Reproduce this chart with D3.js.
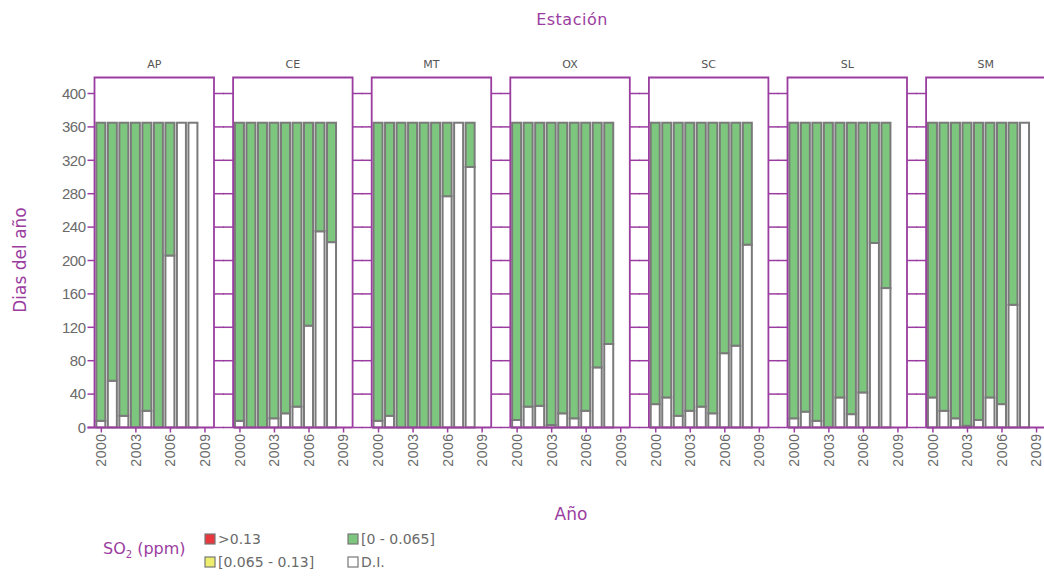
<!DOCTYPE html>
<html>
<head>
<meta charset="utf-8">
<script src="https://cdn.jsdelivr.net/npm/d3@7"></script>
<style>
  html, body { margin: 0; padding: 0; background: #fff; }
  svg { display: block; font-family: "DejaVu Sans", Verdana, sans-serif; }
</style>
</head>
<body>
<svg id="chart" width="1044" height="576"></svg>
<script>
// Días del año por estación y año, según rango de concentración de SO2
const stations = ["AP", "CE", "MT", "OX", "SC", "SL", "SM"];
const years = [2000, 2001, 2002, 2003, 2004, 2005, 2006, 2007, 2008];
const yearTicks = [2000, 2003, 2006, 2009];
const yTicks = [0, 40, 80, 120, 160, 200, 240, 280, 320, 360, 400];
const daysInYear = 365;

// Días sin información (D.I.) por estación, 2000–2008
const diAP = [8, 56, 14, 0, 20, 0, 206, 365, 365];
const diCE = [8, 0, 0, 11, 17, 25, 122, 235, 222];
const diMT = [8, 14, 0, 0, 0, 0, 277, 365, 312];
const diOX = [9, 25, 26, 3, 17, 11, 20, 72, 100];
const diSC = [28, 36, 14, 20, 25, 17, 89, 98, 219];
const diSL = [11, 19, 8, 0, 36, 16, 42, 221, 167];
const diSM = [36, 20, 11, 2, 9, 36, 28, 147, 365];
const diByStation = [diAP, diCE, diMT, diOX, diSC, diSL, diSM];

// Días en los rangos altos (ninguno en el periodo)
const over013 = [0, 0, 0, 0, 0, 0, 0, 0, 0];
const range065to013 = [0, 0, 0, 0, 0, 0, 0, 0, 0];

const legendLabels = [">0.13", "[0.065 - 0.13]", "[0 - 0.065]", "D.I."];
const legendColors = ["#e8383d", "#eeee6e", "#7dc67e", "#ffffff"];

const purple = "#9b3da0";
const grey = "#7a7a7a";
const textGrey = "#6a6a6a";

const svg = d3.select("#chart");

const plotLeft = 94.5, panelStep = 138.6, panelW = 119.5;
const frameTop = 77.5;
const y = d3.scaleLinear().domain([0, 400]).range([427.5, 93.5]);
const x = d3.scaleLinear().domain([1999.45, 2009.83]).range([0, panelW]);
const barW = 9;

const segKeys = ["di", "low", "mid", "high"];
const segColor = { di: legendColors[3], low: legendColors[2], mid: legendColors[1], high: legendColors[0] };

stations.forEach((st, si) => {
  const left = plotLeft + si * panelStep;
  const g = svg.append("g").attr("transform", `translate(${left},0)`);

  // Tick stubs on both sides of the panel
  const stubL = si === 0 ? 7 : 10;
  const stubR = si === stations.length - 1 ? 5 : 10;
  g.append("g").selectAll("line.l").data(yTicks).join("line")
    .attr("x1", -stubL).attr("x2", 0)
    .attr("y1", d => y(d)).attr("y2", d => y(d))
    .attr("stroke", purple).attr("stroke-width", 1.5);
  g.append("g").selectAll("line.r").data(yTicks).join("line")
    .attr("x1", panelW).attr("x2", panelW + stubR)
    .attr("y1", d => y(d)).attr("y2", d => y(d))
    .attr("stroke", purple).attr("stroke-width", 1.5);

  // Stacked bars
  const di = diByStation[si];
  const rows = years.map((yr, i) => {
    const high = over013[i], mid = range065to013[i];
    const low = daysInYear - di[i] - high - mid;
    return { year: yr, di: di[i], low, mid, high };
  });
  const stack = d3.stack().keys(segKeys)(rows);
  stack.forEach(layer => {
    g.append("g").selectAll("rect").data(layer.filter(d => d[1] > d[0])).join("rect")
      .attr("x", d => x(d.data.year) - barW / 2)
      .attr("width", barW)
      .attr("y", d => y(d[1]))
      .attr("height", d => y(d[0]) - y(d[1]))
      .attr("fill", segColor[layer.key])
      .attr("stroke", grey).attr("stroke-width", 2);
  });

  // Frame
  g.append("path")
    .attr("d", `M0,${y(0)}V${frameTop}H${panelW}V${y(0)}`)
    .attr("fill", "none").attr("stroke", purple).attr("stroke-width", 1.8);

  // Bottom axis
  const xAxis = d3.axisBottom(x).tickValues(yearTicks).tickFormat(d3.format("d")).tickSize(5).tickSizeOuter(0);
  const ax = g.append("g").attr("transform", `translate(0,${y(0)})`).call(xAxis);
  ax.select(".domain").attr("stroke", purple).attr("stroke-width", 2)
    .attr("d", `M${si === 0 ? -7 : 0},0H${panelW}`);
  ax.selectAll(".tick line").attr("stroke", purple).attr("stroke-width", 1.5);
  ax.selectAll(".tick text")
    .attr("fill", textGrey).attr("font-size", 14).attr("letter-spacing", "0.5")
    .attr("transform", "rotate(-90)")
    .attr("text-anchor", "end")
    .attr("x", -6).attr("y", 0).attr("dy", "0.35em");

  // Strip label
  g.append("text").attr("x", panelW / 2).attr("y", 68)
    .attr("text-anchor", "middle").attr("font-size", 11).attr("fill", "#555")
    .text(st);
});

// Left axis labels
const yAxis = d3.axisLeft(y).tickValues(yTicks).tickSize(0).tickFormat(d3.format("d"));
const ya = svg.append("g").attr("transform", `translate(${plotLeft - 9},0)`).call(yAxis);
ya.select(".domain").remove();
ya.selectAll(".tick text").attr("fill", textGrey).attr("font-size", 15).attr("x", 0).attr("letter-spacing", "-0.5");

// Titles
svg.append("text").attr("x", 572).attr("y", 25).attr("text-anchor", "middle")
  .attr("font-size", 16).attr("fill", purple).attr("letter-spacing", "0.5").text("Estación");
svg.append("text").attr("x", 571).attr("y", 520).attr("text-anchor", "middle")
  .attr("font-size", 17).attr("fill", purple).text("Año");
svg.append("text").attr("transform", "translate(26,260) rotate(-90)").attr("text-anchor", "middle")
  .attr("font-size", 17).attr("fill", purple).text("Dias del año");

// Legend
const leg = svg.append("g");
const legTitle = leg.append("text").attr("x", 103).attr("y", 554).attr("font-size", 16).attr("fill", purple);
legTitle.append("tspan").text("SO");
legTitle.append("tspan").attr("font-size", 10).attr("dy", 4).text("2");
legTitle.append("tspan").attr("dy", -4).text(" (ppm)");

const legPos = [[205, 534], [205, 557], [348, 534], [348, 557]];
legendLabels.forEach((lab, i) => {
  const [lx, ly] = legPos[i];
  leg.append("rect").attr("x", lx).attr("y", ly).attr("width", 10).attr("height", 10)
    .attr("fill", legendColors[i]).attr("stroke", "#777").attr("stroke-width", 1.2);
  leg.append("text").attr("x", lx + 13).attr("y", ly + 10).attr("font-size", 14)
    .attr("fill", textGrey).text(lab);
});
</script>
</body>
</html>
